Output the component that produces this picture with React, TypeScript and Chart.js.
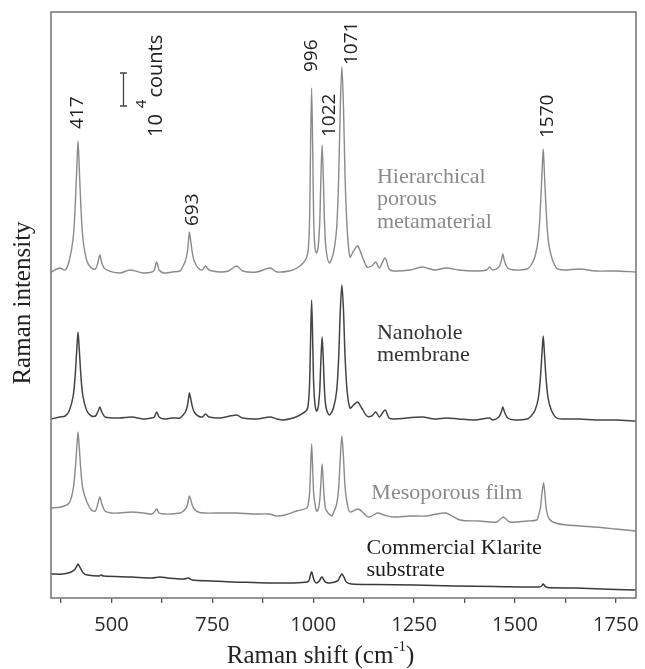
import React, { useEffect, useRef } from 'react';
import { Chart, registerables } from 'chart.js';

Chart.register(...registerables);

// ---- axis ranges / ticks ----
const X_MIN = 350;
const X_MAX = 1800;
const Y_MIN = 0;
const Y_MAX = 586; // arbitrary intensity units (33 units = 10^4 counts)
const xTickValues = [375, 500, 625, 750, 875, 1000, 1125, 1250, 1375, 1500, 1625, 1750];
const xTickLabels = [500, 750, 1000, 1250, 1500, 1750];

// ---- spectra: [Raman shift (cm-1), intensity (a.u.)] ----
const hierarchical: number[][] = [
  [350, 326], [372, 330], [385, 328], [395, 337], [405, 360], [410, 392], [414, 431], [417, 457],
  [420, 431], [424, 392], [429, 360], [439, 337], [450, 330], [460, 329], [466, 335], [471, 343],
  [476, 335], [484, 329], [520, 325], [546, 328], [580, 325], [600, 326], [606, 328], [612, 336],
  [618, 328], [630, 325], [650, 326], [670, 327], [675, 330], [683, 337], [688, 346], [691, 358],
  [693, 366], [696, 358], [700, 346], [705, 337], [715, 330], [725, 328], [733, 332], [742, 328],
  [770, 326], [790, 327], [810, 332], [825, 327], [860, 326], [893, 330], [910, 326], [940, 327],
  [960, 330], [975, 335], [984, 341], [988, 350], [991, 380], [993, 440], [996, 510], [999, 440],
  [1001, 380], [1004, 352], [1008, 345], [1012, 350], [1016, 375], [1019, 420], [1022, 453],
  [1025, 420], [1028, 375], [1032, 348], [1040, 335], [1050, 345], [1058, 370], [1063, 420],
  [1067, 490], [1071, 531], [1075, 490], [1079, 420], [1084, 370], [1091, 341], [1100, 347],
  [1110, 352], [1120, 343], [1133, 331], [1145, 332], [1155, 336], [1164, 330], [1178, 340],
  [1188, 329], [1200, 327], [1240, 328], [1270, 331], [1300, 328], [1330, 330], [1360, 328],
  [1400, 327], [1430, 328], [1437, 331], [1445, 328], [1460, 331], [1466, 337], [1470, 344],
  [1474, 337], [1482, 330], [1500, 328], [1530, 329], [1540, 333], [1550, 342], [1558, 360],
  [1563, 390], [1567, 425], [1570, 449], [1573, 425], [1577, 390], [1582, 360], [1590, 342],
  [1603, 330], [1620, 328], [1660, 329], [1700, 327], [1750, 327], [1800, 326],
];

const nanohole: number[][] = [
  [350, 179], [372, 181], [385, 182], [395, 187], [405, 202], [410, 223], [414, 249], [417, 266],
  [420, 249], [424, 223], [429, 202], [439, 187], [450, 182], [460, 182], [466, 186], [471, 191],
  [476, 186], [484, 181], [520, 180], [550, 181], [580, 179], [600, 180], [606, 181], [612, 186],
  [618, 181], [630, 179], [650, 180], [670, 180], [675, 182], [683, 186], [688, 192], [691, 200],
  [693, 205], [696, 200], [700, 192], [705, 186], [715, 182], [725, 181], [733, 184], [742, 181],
  [770, 180], [810, 183], [825, 180], [860, 179], [893, 181], [910, 179], [925, 178], [950, 180],
  [967, 183], [984, 188], [988, 195], [991, 215], [993, 250], [996, 298], [999, 250], [1001, 215],
  [1004, 195], [1008, 187], [1012, 190], [1016, 207], [1019, 238], [1022, 261], [1025, 238],
  [1028, 207], [1032, 190], [1040, 183], [1050, 190], [1058, 207], [1063, 240], [1067, 287],
  [1071, 313], [1075, 287], [1079, 240], [1084, 207], [1091, 190], [1100, 193], [1110, 196],
  [1120, 190], [1133, 182], [1145, 182], [1155, 186], [1164, 181], [1178, 188], [1188, 180],
  [1200, 179], [1270, 181], [1300, 179], [1330, 180], [1360, 179], [1400, 178], [1437, 180],
  [1445, 178], [1460, 181], [1466, 186], [1470, 191], [1474, 186], [1482, 180], [1500, 178],
  [1530, 179], [1540, 182], [1550, 188], [1558, 200], [1563, 220], [1567, 245], [1570, 262],
  [1573, 245], [1577, 220], [1582, 200], [1590, 188], [1603, 180], [1620, 179], [1660, 179],
  [1700, 178], [1750, 178], [1800, 177],
];

const mesoporous: number[][] = [
  [350, 90], [375, 91], [395, 95], [405, 109], [410, 128], [414, 151], [417, 166], [420, 151],
  [424, 128], [429, 109], [439, 96], [450, 88], [460, 87], [466, 94], [471, 101], [476, 94],
  [484, 87], [500, 85], [520, 85], [550, 86], [580, 85], [600, 84], [606, 86], [612, 89],
  [618, 85], [630, 84], [650, 84], [670, 85], [675, 86], [683, 89], [688, 93], [691, 99],
  [693, 102], [696, 99], [700, 93], [705, 89], [715, 86], [730, 85], [770, 85], [810, 85],
  [850, 84], [890, 84], [910, 82], [930, 83], [959, 87], [984, 90], [988, 95], [991, 105],
  [993, 125], [996, 154], [999, 125], [1001, 105], [1004, 95], [1008, 87], [1012, 88],
  [1016, 97], [1019, 115], [1022, 134], [1025, 115], [1028, 97], [1032, 88], [1046, 82],
  [1050, 85], [1058, 94], [1063, 110], [1067, 140], [1071, 162], [1075, 140], [1079, 110],
  [1084, 95], [1091, 86], [1112, 89], [1137, 81], [1160, 85], [1175, 83], [1199, 81],
  [1240, 82], [1281, 82], [1327, 85], [1364, 78], [1410, 77], [1455, 76], [1471, 81],
  [1487, 76], [1530, 77], [1554, 78], [1558, 82], [1563, 90], [1567, 105], [1571, 115],
  [1574, 105], [1578, 88], [1585, 79], [1600, 75], [1628, 73], [1700, 71], [1750, 69],
  [1800, 67],
];

const klarite: number[][] = [
  [350, 24], [380, 24], [400, 26], [410, 29], [414, 32], [417, 34], [420, 32], [424, 29],
  [430, 25], [440, 23], [470, 22], [474, 23], [480, 22], [550, 21], [600, 20], [620, 21],
  [640, 20], [680, 19], [690, 20], [700, 18], [750, 17], [800, 16], [850, 15.5], [900, 15],
  [950, 15], [985, 16], [990, 18], [993, 23], [996, 26], [999, 22], [1003, 17], [1008, 15],
  [1015, 17], [1019, 20], [1022, 21], [1025, 19], [1030, 16], [1040, 15], [1060, 17],
  [1066, 21], [1071, 24], [1076, 21], [1082, 16], [1095, 14], [1150, 13.5], [1250, 13],
  [1350, 12], [1450, 11.5], [1560, 11], [1566, 12], [1570, 14], [1574, 12], [1580, 10.5],
  [1650, 10], [1750, 8.5], [1800, 8],
];

// ---- annotations (anchors in data coordinates) ----
const peakLabels = ['417', '693', '996', '1022', '1071', '1570'];
const peakLabelX = [416, 701, 996, 1040, 1094, 1581];
const peakLabelY = [469, 372, 526, 461, 533, 460];

const seriesNames = [
  ['Hierarchical', 'porous', 'metamaterial'],
  ['Nanohole', 'membrane'],
  ['Mesoporous film'],
  ['Commercial Klarite', 'substrate'],
];
const seriesNameX = [1158, 1158, 1144, 1132];
const seriesNameY = [421, 265, 105, 50];

const scaleBarX = 528;
const scaleBarY = [492, 525]; // 10^4 counts
const scaleTextX = 610;
const scaleTextY = 461;

const SANS = '"Open Sans", "DejaVu Sans", sans-serif';
const SERIF = '"Liberation Serif", "Times New Roman", serif';

const annotationPlugin = {
  id: 'annotations',
  afterDraw(chart: any) {
    const { ctx, chartArea } = chart;
    const xs = chart.scales.x;
    const ys = chart.scales.y;
    const px = (v: number) => xs.getPixelForValue(v);
    const py = (v: number) => ys.getPixelForValue(v);

    ctx.save();
    // frame
    ctx.strokeStyle = '#7a7a7a';
    ctx.lineWidth = 1.6;
    ctx.strokeRect(chartArea.left, chartArea.top, chartArea.right - chartArea.left, chartArea.bottom - chartArea.top);

    // peak labels (rotated)
    ctx.fillStyle = '#222';
    ctx.font = `19px ${SANS}`;
    ctx.textAlign = 'left';
    ctx.textBaseline = 'middle';
    peakLabels.forEach((t, i) => {
      ctx.save();
      ctx.translate(px(peakLabelX[i]), py(peakLabelY[i]));
      ctx.rotate(-Math.PI / 2);
      ctx.fillText(t, 0, 0);
      ctx.restore();
    });

    // scale bar
    const bx = Math.round(px(scaleBarX)) + 0.5;
    const b0 = py(scaleBarY[0]);
    const b1 = py(scaleBarY[1]);
    ctx.strokeStyle = '#444';
    ctx.lineWidth = 1.3;
    ctx.beginPath();
    ctx.moveTo(bx, b0); ctx.lineTo(bx, b1);
    ctx.moveTo(bx - 3.5, b0); ctx.lineTo(bx + 3.5, b0);
    ctx.moveTo(bx - 3.5, b1); ctx.lineTo(bx + 3.5, b1);
    ctx.stroke();

    // scale text "10^4 counts"
    ctx.save();
    ctx.translate(px(scaleTextX), py(scaleTextY));
    ctx.rotate(-Math.PI / 2);
    ctx.fillStyle = '#222';
    ctx.font = `20px ${SANS}`;
    ctx.fillText('10', 0, 0);
    let w = ctx.measureText('10').width + 6;
    ctx.font = `15px ${SANS}`;
    ctx.fillText('4', w, -14);
    w += ctx.measureText('4').width + 2;
    ctx.font = `20px ${SANS}`;
    ctx.fillText('counts', w, 0);
    ctx.restore();

    // series names
    const nameColors = ['#8a8a8a', '#333', '#8a8a8a', '#1e1e1e'];
    ctx.font = `22px ${SERIF}`;
    ctx.textAlign = 'left';
    ctx.textBaseline = 'middle';
    seriesNames.forEach((lines, i) => {
      ctx.fillStyle = nameColors[i];
      const x0 = px(seriesNameX[i]);
      const y0 = py(seriesNameY[i]);
      lines.forEach((ln, j) => ctx.fillText(ln, x0, y0 + j * 22.7));
    });

    // axis titles
    ctx.fillStyle = '#222';
    ctx.font = `25px ${SERIF}`;
    ctx.textBaseline = 'middle';
    const main = 'Raman shift (cm';
    const sup = '-1';
    const close = ')';
    const wMain = ctx.measureText(main).width;
    const wClose = ctx.measureText(close).width;
    ctx.font = `15px ${SERIF}`;
    const wSup = ctx.measureText(sup).width;
    const total = wMain + wSup + wClose;
    const cx = (chartArea.left + chartArea.right) / 2 - 23;
    let tx = cx - total / 2;
    const ty = 656;
    ctx.textAlign = 'left';
    ctx.font = `25px ${SERIF}`;
    ctx.fillText(main, tx, ty);
    tx += wMain;
    ctx.font = `15px ${SERIF}`;
    ctx.fillText(sup, tx, ty - 9);
    tx += wSup;
    ctx.font = `25px ${SERIF}`;
    ctx.fillText(close, tx, ty);

    ctx.save();
    ctx.translate(23, 303);
    ctx.rotate(-Math.PI / 2);
    ctx.textAlign = 'center';
    ctx.fillText('Raman intensity', 0, 0);
    ctx.restore();

    ctx.restore();
  },
};

function toXY(arr: number[][]) {
  return arr.map(([x, y]) => ({ x, y }));
}

export default function App() {
  const ref = useRef<HTMLCanvasElement | null>(null);

  useEffect(() => {
    if (!ref.current) return;
    const mk = (label: string, data: number[][], color: string, width: number) => ({
      label,
      data: toXY(data),
      borderColor: color,
      borderWidth: width,
      pointRadius: 0,
      tension: 0.3,
      fill: false,
    });
    const chart = new Chart(ref.current, {
      type: 'line',
      data: {
        datasets: [
          mk('Hierarchical porous metamaterial', hierarchical, '#8a8a8a', 1.4),
          mk('Nanohole membrane', nanohole, '#444', 1.5),
          mk('Mesoporous film', mesoporous, '#8a8a8a', 1.4),
          mk('Commercial Klarite substrate', klarite, '#3a3a3a', 1.5),
        ],
      },
      options: {
        responsive: false,
        animation: false,
        layout: { padding: { left: 51, top: 12, right: 9, bottom: 0 } },
        plugins: { legend: { display: false }, tooltip: { enabled: false } },
        scales: {
          x: {
            type: 'linear',
            min: X_MIN,
            max: X_MAX,
            afterBuildTicks: (s: any) => {
              s.ticks = xTickValues.map((v) => ({ value: v }));
            },
            afterFit: (s: any) => {
              s.height = 71;
              s.paddingLeft = 0;
              s.paddingRight = 0;
            },
            ticks: {
              autoSkip: false,
              maxRotation: 0,
              padding: 10,
              color: '#2a2a2a',
              font: { family: SANS, size: 20 },
              callback: (v: any) => (xTickLabels.includes(Number(v)) ? String(v) : ''),
            },
            grid: { drawOnChartArea: false, drawTicks: true, tickLength: 5, color: '#555', lineWidth: 1.3 },
            border: { display: false },
          },
          y: {
            display: false,
            min: Y_MIN,
            max: Y_MAX,
          },
        },
      },
      plugins: [annotationPlugin],
    });
    return () => chart.destroy();
  }, []);

  return (
    <div style={{ position: 'fixed', left: 0, top: 0, width: 645, height: 669, background: '#fff' }}>
      <canvas ref={ref} width={645} height={669} />
    </div>
  );
}
